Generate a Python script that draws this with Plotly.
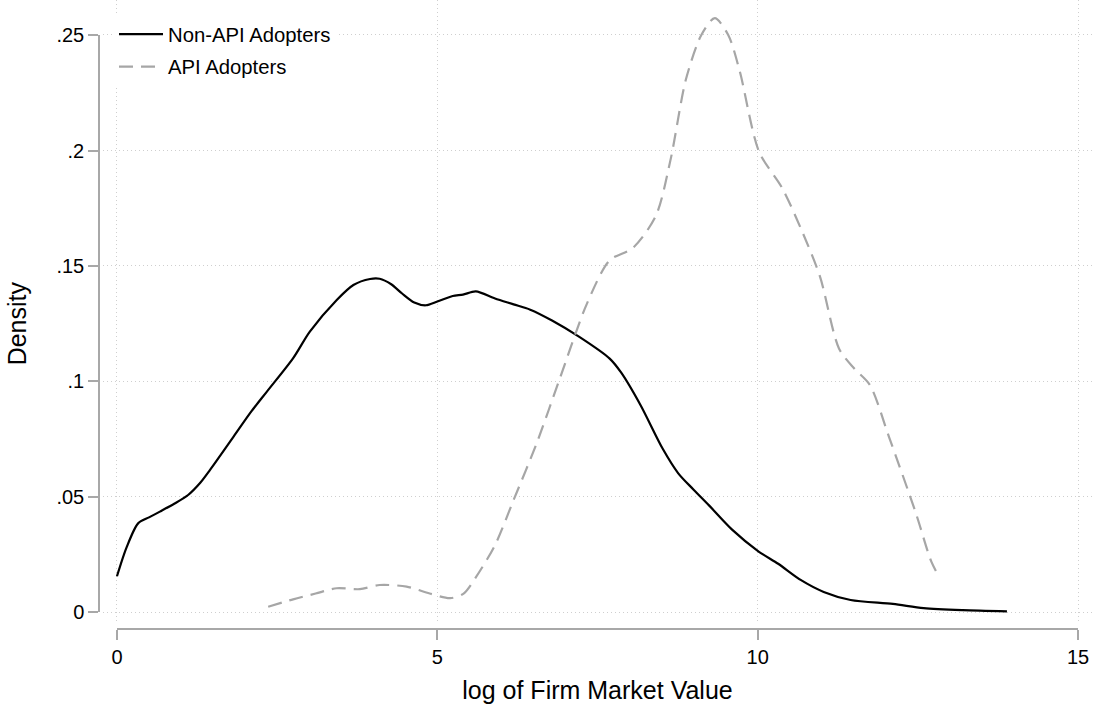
import plotly.graph_objects as go

# ---- data ----
non_api_x = [0.00, 0.15, 0.33, 0.50, 0.67, 0.90, 1.11, 1.30, 1.45, 1.82, 2.10, 2.34, 2.75, 3.01,
             3.43, 3.69, 3.95, 4.10, 4.28, 4.45, 4.64, 4.82, 5.00, 5.24, 5.40, 5.60, 5.90, 6.19,
             6.45, 6.79, 7.21, 7.69, 7.87, 8.17, 8.52, 8.76, 9.00, 9.24, 9.60, 10.02, 10.32,
             10.67, 11.03, 11.45, 12.11, 12.59, 13.20, 13.89]
non_api_y = [0.0155, 0.0280, 0.0384, 0.0410, 0.0435, 0.0470, 0.0507, 0.0560, 0.0615, 0.0760,
             0.0870, 0.0955, 0.1100, 0.1215, 0.1352, 0.1417, 0.1443, 0.1444, 0.1420, 0.1380,
             0.1341, 0.1329, 0.1345, 0.1369, 0.1375, 0.1389, 0.1358, 0.1333, 0.1310, 0.1263,
             0.1193, 0.1098, 0.1037, 0.0897, 0.0706, 0.0601, 0.0530, 0.0462, 0.0357, 0.0261,
             0.0209, 0.0139, 0.0087, 0.0052, 0.0035, 0.0017, 0.0008, 0.0003]

api_x = [2.36, 2.75, 3.10, 3.43, 3.79, 4.10, 4.52, 4.88, 5.20, 5.41, 5.60, 5.90, 6.19, 6.55,
         6.91, 7.33, 7.69, 8.05, 8.41, 8.64, 8.88, 9.12, 9.33, 9.54, 9.72, 10.02, 10.38, 10.67,
         10.97, 11.27, 11.51, 11.75, 12.05, 12.47, 12.71, 12.84]
api_y = [0.0023, 0.0055, 0.0080, 0.0103, 0.0099, 0.0117, 0.0110, 0.0080, 0.0060, 0.0080,
         0.0150, 0.0290, 0.0485, 0.0731, 0.1010, 0.1333, 0.1524, 0.1577, 0.1716, 0.1960,
         0.2308, 0.2500, 0.2573, 0.2500, 0.2343, 0.1995, 0.1838, 0.1664, 0.1455, 0.1141,
         0.1054, 0.0984, 0.0758, 0.0427, 0.0218, 0.0148]

x_ticks = [0, 5, 10, 15]
x_tick_labels = ["0", "5", "10", "15"]
y_ticks = [0, 0.05, 0.10, 0.15, 0.20, 0.25]
y_tick_labels = ["0", ".05", ".1", ".15", ".2", ".25"]

FONT = "Liberation Sans, Arial, Helvetica, sans-serif"
AXIS_COLOR = "#a8a8a8"
GRID_COLOR = "#cfcfcf"

fig = go.Figure()
fig.add_trace(go.Scatter(x=non_api_x, y=non_api_y, mode="lines", name="Non-API Adopters",
                         legendgroup="a",
                         line=dict(color="black", width=2.2, shape="spline", smoothing=0.8)))
fig.add_trace(go.Scatter(x=api_x, y=api_y, mode="lines", name="API Adopters",
                         legendgroup="b",
                         line=dict(color="#a6a6a6", width=2.2, dash="14px,8px",
                                   shape="spline", smoothing=0.8)))
# transparent copy so the offset (Stata-style) axes get drawn
fig.add_trace(go.Scatter(x=non_api_x, y=non_api_y, mode="lines", xaxis="x2", yaxis="y2",
                         opacity=0, showlegend=False, hoverinfo="skip",
                         line=dict(width=0)))

fig.update_layout(
    width=1094, height=704,
    margin=dict(l=99, r=1, t=0, b=75, autoexpand=False),
    paper_bgcolor="white", plot_bgcolor="rgba(0,0,0,0)",
    font=dict(family=FONT, size=20, color="black"),
    showlegend=True,
    legend=dict(x=0.0151, y=0.977, xanchor="left", yanchor="top",
                bgcolor="white", borderwidth=0, font=dict(size=20.3),
                itemwidth=44, traceorder="grouped", tracegroupgap=3),
    # grid-only axes carrying the data
    xaxis=dict(domain=[0.004, 1.0], range=[-0.2185, 15.233], automargin=False,
               showgrid=True, gridcolor=GRID_COLOR, gridwidth=1, griddash="1px,3px",
               tickvals=x_ticks, showticklabels=False, ticks="",
               showline=False, zeroline=False),
    yaxis=dict(domain=[0.0095, 1.0], range=[-0.00477, 0.26516], automargin=False,
               showgrid=True, gridcolor=GRID_COLOR, gridwidth=1, griddash="1px,3px",
               tickvals=y_ticks, showticklabels=False, ticks="",
               showline=False, zeroline=False),
    # offset Stata-style axes
    xaxis2=dict(anchor="free", position=0, side="bottom", automargin=False,
                domain=[0.01811, 0.98491], range=[0, 15],
                tickvals=x_ticks, ticktext=x_tick_labels,
                ticks="outside", ticklen=10, tickwidth=1.5, tickcolor=AXIS_COLOR,
                showline=True, linecolor=AXIS_COLOR, linewidth=1.5,
                showgrid=False, zeroline=False,
                tickfont=dict(size=20),
                title=dict(text="log of Firm Market Value", font=dict(size=25), standoff=14)),
    yaxis2=dict(anchor="free", position=0, side="left", automargin=False,
                domain=[0.02703, 0.94388], range=[0, 0.25],
                tickvals=y_ticks, ticktext=y_tick_labels,
                ticks="outside", ticklen=10, tickwidth=1.5, tickcolor=AXIS_COLOR,
                showline=True, linecolor=AXIS_COLOR, linewidth=1.5,
                showgrid=False, zeroline=False,
                tickfont=dict(size=20),
                title=dict(text="Density", font=dict(size=25), standoff=22)),
)

fig.write_html("out.html", config={"displayModeBar": False},
               post_script="document.body.style.margin='0';")
